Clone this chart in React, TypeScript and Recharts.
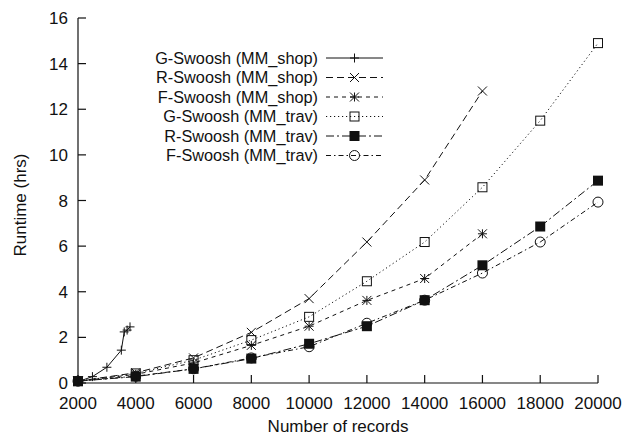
import React from 'react'
import { LineChart, Line, XAxis, YAxis, Label } from 'recharts'

// record counts (x) and runtimes in hours (y)
const gShopRecords = [2000, 2500, 3000, 3500, 3600, 3700, 3800]
const gSwooshShop = [0.06, 0.28, 0.69, 1.44, 2.24, 2.32, 2.46]

const shopRecords = [2000, 4000, 6000, 8000, 10000, 12000, 14000, 16000]
const rSwooshShop = [0.08, 0.45, 1.1, 2.22, 3.7, 6.18, 8.9, 12.8]
const fSwooshShop = [0.08, 0.38, 0.88, 1.65, 2.49, 3.62, 4.58, 6.54]

const travRecords = [2000, 4000, 6000, 8000, 10000, 12000, 14000, 16000, 18000, 20000]
const gSwooshTrav = [0.08, 0.42, 1.0, 1.88, 2.9, 4.46, 6.18, 8.58, 11.5, 14.9]
const rSwooshTrav = [0.08, 0.28, 0.62, 1.07, 1.72, 2.49, 3.63, 5.16, 6.86, 8.87]
const fSwooshTrav = [0.08, 0.3, 0.62, 1.1, 1.59, 2.62, 3.63, 4.82, 6.18, 7.93]

const xTicks = [2000, 4000, 6000, 8000, 10000, 12000, 14000, 16000, 18000, 20000]
const yTicks = [0, 2, 4, 6, 8, 10, 12, 14, 16]

const toPoints = (xs: number[], ys: number[]) => xs.map((x, i) => ({ x, y: ys[i] }))

const FONT = '"Liberation Sans", Arial, Helvetica, sans-serif'
const INK = '#111'

type MarkerKind = 'plus' | 'cross' | 'star' | 'box' | 'boxFilled' | 'circle'

const series = [
  { name: 'G-Swoosh (MM_shop)', data: toPoints(gShopRecords, gSwooshShop), dash: undefined, marker: 'plus' as MarkerKind },
  { name: 'R-Swoosh (MM_shop)', data: toPoints(shopRecords, rSwooshShop), dash: '7 4', marker: 'cross' as MarkerKind },
  { name: 'F-Swoosh (MM_shop)', data: toPoints(shopRecords, fSwooshShop), dash: '4 4', marker: 'star' as MarkerKind },
  { name: 'G-Swoosh (MM_trav)', data: toPoints(travRecords, gSwooshTrav), dash: '1.2 2.8', marker: 'box' as MarkerKind },
  { name: 'R-Swoosh (MM_trav)', data: toPoints(travRecords, rSwooshTrav), dash: '8 3 2 3', marker: 'boxFilled' as MarkerKind },
  { name: 'F-Swoosh (MM_trav)', data: toPoints(travRecords, fSwooshTrav), dash: '5 3 1.5 3', marker: 'circle' as MarkerKind },
]

function Marker({ kind, cx, cy }: { kind: MarkerKind; cx: number; cy: number }) {
  const s = 4.5
  switch (kind) {
    case 'plus':
      return (
        <g stroke={INK} strokeWidth={1}>
          <line x1={cx - s} y1={cy} x2={cx + s} y2={cy} />
          <line x1={cx} y1={cy - s} x2={cx} y2={cy + s} />
        </g>
      )
    case 'cross':
      return (
        <g stroke={INK} strokeWidth={1}>
          <line x1={cx - s} y1={cy - s} x2={cx + s} y2={cy + s} />
          <line x1={cx - s} y1={cy + s} x2={cx + s} y2={cy - s} />
        </g>
      )
    case 'star':
      return (
        <g stroke={INK} strokeWidth={1}>
          <line x1={cx - s} y1={cy} x2={cx + s} y2={cy} />
          <line x1={cx} y1={cy - s} x2={cx} y2={cy + s} />
          <line x1={cx - s} y1={cy - s} x2={cx + s} y2={cy + s} />
          <line x1={cx - s} y1={cy + s} x2={cx + s} y2={cy - s} />
        </g>
      )
    case 'box':
      return <rect x={cx - s} y={cy - s} width={2 * s} height={2 * s} fill="none" stroke={INK} strokeWidth={1} />
    case 'boxFilled':
      return <rect x={cx - 5} y={cy - 5} width={10} height={10} fill={INK} />
    case 'circle':
      return <circle cx={cx} cy={cy} r={5} fill="none" stroke={INK} strokeWidth={1} />
  }
}

const tickText = { fontFamily: FONT, fontSize: 17, fill: INK }

const BottomTick = ({ x, y, payload }: any) => (
  <g>
    <line x1={x} y1={y} x2={x} y2={y - 8} stroke={INK} strokeWidth={1.2} />
    <text x={x} y={y + 26} textAnchor="middle" style={tickText}>{payload.value}</text>
  </g>
)
const TopTick = ({ x, y }: any) => <line x1={x} y1={y} x2={x} y2={y + 8} stroke={INK} strokeWidth={1.2} />
const LeftTick = ({ x, y, payload }: any) => (
  <g>
    <line x1={x} y1={y} x2={x + 8} y2={y} stroke={INK} strokeWidth={1.2} />
    <text x={x - 10} y={y + 6} textAnchor="end" style={tickText}>{payload.value}</text>
  </g>
)
const RightTick = ({ x, y }: any) => <line x1={x} y1={y} x2={x - 8} y2={y} stroke={INK} strokeWidth={1.2} />

function LegendBox() {
  const rowY = [58, 77.5, 97, 116.5, 136, 155.5]
  return (
    <svg width={625} height={436} style={{ position: 'absolute', left: 0, top: 0, pointerEvents: 'none' }}>
      {series.map((s, i) => (
        <g key={s.name}>
          <text x={318} y={rowY[i] + 5.5} textAnchor="end" style={{ fontFamily: FONT, fontSize: 16.3, fill: INK }}>
            {s.name}
          </text>
          <line x1={326} y1={rowY[i]} x2={383} y2={rowY[i]} stroke={INK} strokeWidth={1} strokeDasharray={s.dash} />
          <Marker kind={s.marker} cx={354.5} cy={rowY[i]} />
        </g>
      ))}
    </svg>
  )
}

export default function App() {
  const axisLine = { stroke: INK, strokeWidth: 1.2 }
  return (
    <div style={{ position: 'absolute', left: 0, top: 0, width: 625, height: 436, background: '#fff' }}>
      <LineChart width={625} height={436} margin={{ top: 18, right: 27, bottom: 0, left: 0 }}>
        <XAxis
          dataKey="x"
          type="number"
          domain={[2000, 20000]}
          ticks={xTicks}
          height={53}
          axisLine={axisLine}
          tickLine={false}
          tickSize={0}
          tickMargin={0}
          tick={BottomTick}
          interval={0}
        >
          <Label
            content={({ viewBox }: any) => (
              <text
                x={viewBox.x + viewBox.width / 2}
                y={432}
                textAnchor="middle"
                style={{ fontFamily: FONT, fontSize: 17, fill: INK }}
              >
                Number of records
              </text>
            )}
          />
        </XAxis>
        <XAxis
          xAxisId="top"
          orientation="top"
          dataKey="x"
          type="number"
          domain={[2000, 20000]}
          ticks={xTicks}
          height={0}
          axisLine={axisLine}
          tickLine={false}
          tickSize={0}
          tickMargin={0}
          tick={TopTick}
          interval={0}
        />
        <YAxis
          type="number"
          domain={[0, 16]}
          ticks={yTicks}
          width={78}
          axisLine={axisLine}
          tickLine={false}
          tickSize={0}
          tickMargin={0}
          tick={LeftTick}
          interval={0}
        >
          <Label
            content={() => (
              <text
                x={0}
                y={0}
                transform="translate(26 205) rotate(-90)"
                textAnchor="middle"
                style={{ fontFamily: FONT, fontSize: 17, fill: INK }}
              >
                Runtime (hrs)
              </text>
            )}
          />
        </YAxis>
        <YAxis
          yAxisId="right"
          orientation="right"
          type="number"
          domain={[0, 16]}
          ticks={yTicks}
          width={0}
          axisLine={axisLine}
          tickLine={false}
          tickSize={0}
          tickMargin={0}
          tick={RightTick}
          interval={0}
        />
        {series.map((s) => (
          <Line
            key={s.name}
            data={s.data}
            dataKey="y"
            name={s.name}
            type="linear"
            stroke={INK}
            strokeWidth={1}
            strokeDasharray={s.dash}
            isAnimationActive={false}
            dot={(p: any) => <Marker key={`${s.name}-${p.index}`} kind={s.marker} cx={p.cx} cy={p.cy} />}
            activeDot={false}
          />
        ))}
      </LineChart>
      <LegendBox />
    </div>
  )
}
